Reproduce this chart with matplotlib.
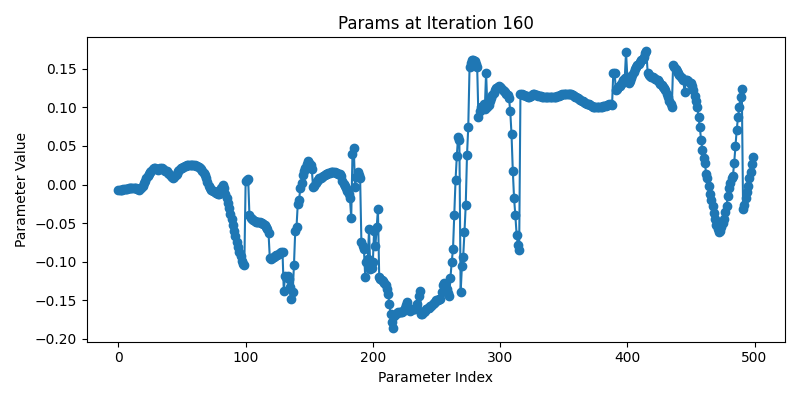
import matplotlib
matplotlib.use("Agg")
import matplotlib.pyplot as plt
import numpy as np

title = "Params at Iteration 160"
x_label = "Parameter Index"
y_label = "Parameter Value"

# values, one per parameter index (0..499)
param_values = [
    -0.007, -0.007, -0.007, -0.007, -0.006, -0.006, -0.006, -0.006, -0.005, -0.005,
    -0.005, -0.005, -0.004, -0.004, -0.004, -0.006, -0.007, -0.005, -0.004, -0.002,
    0.002, 0.005, 0.008, 0.011, 0.014, 0.016, 0.018, 0.020, 0.021, 0.021,
    0.020, 0.019, 0.020, 0.021, 0.021, 0.020, 0.019, 0.018, 0.017, 0.015,
    0.013, 0.011, 0.010, 0.009, 0.010, 0.012, 0.014, 0.017, 0.019, 0.021,
    0.022, 0.023, 0.024, 0.024, 0.025, 0.025, 0.025, 0.025, 0.025, 0.025,
    0.025, 0.024, 0.024, 0.023, 0.022, 0.020, 0.018, 0.015, 0.012, 0.008,
    0.003, -0.002, -0.005, -0.007, -0.008, -0.009, -0.010, -0.011, -0.012, -0.012,
    -0.011, -0.005, 0.000, -0.004, -0.012, -0.017, -0.024, -0.030, -0.038, -0.045,
    -0.053, -0.060, -0.067, -0.074, -0.081, -0.087, -0.093, -0.099, -0.103, -0.104,
    0.004, 0.006, 0.007, -0.040, -0.043, -0.045, -0.046, -0.047, -0.048, -0.048,
    -0.049, -0.049, -0.050, -0.050, -0.051, -0.052, -0.055, -0.058, -0.063, -0.095,
    -0.096, -0.095, -0.094, -0.093, -0.092, -0.091, -0.090, -0.089, -0.088, -0.088,
    -0.138, -0.119, -0.120, -0.119, -0.122, -0.133, -0.148, -0.140, -0.104, -0.060,
    -0.055, -0.025, -0.020, -0.005, 0.002, 0.012, 0.018, 0.022, 0.027, 0.030,
    0.028, 0.025, 0.020, -0.003, -0.002, 0.002, 0.004, 0.006, 0.008, 0.009,
    0.010, 0.011, 0.012, 0.013, 0.014, 0.015, 0.015, 0.016, 0.016, 0.016,
    0.016, 0.015, 0.015, 0.014, 0.013, 0.011, 0.005, 0.001, -0.002, -0.005,
    -0.008, -0.012, -0.018, -0.043, 0.040, 0.048, -0.003, 0.010, 0.016, 0.012,
    0.008, -0.075, -0.080, -0.084, -0.120, -0.100, -0.097, -0.058, -0.110, -0.108,
    -0.100, -0.060, -0.080, -0.055, -0.032, -0.120, -0.122, -0.124, -0.125, -0.128,
    -0.131, -0.136, -0.142, -0.155, -0.168, -0.178, -0.186, -0.170, -0.168, -0.167,
    -0.166, -0.166, -0.165, -0.165, -0.164, -0.160, -0.156, -0.153, -0.160, -0.164,
    -0.163, -0.162, -0.162, -0.161, -0.160, -0.155, -0.145, -0.138, -0.168, -0.168,
    -0.166, -0.164, -0.162, -0.160, -0.160, -0.158, -0.157, -0.155, -0.154, -0.152,
    -0.150, -0.150, -0.149, -0.148, -0.140, -0.130, -0.128, -0.132, -0.136, -0.141,
    -0.145, -0.121, -0.100, -0.084, -0.039, 0.006, 0.037, 0.062, 0.058, -0.140,
    -0.106, -0.094, -0.062, -0.027, 0.038, 0.075, 0.152, 0.158, 0.162, 0.162,
    0.160, 0.156, 0.152, 0.087, 0.095, 0.100, 0.101, 0.104, 0.098, 0.145,
    0.100, 0.103, 0.108, 0.112, 0.116, 0.119, 0.122, 0.125, 0.127, 0.128,
    0.127, 0.125, 0.123, 0.121, 0.120, 0.118, 0.116, 0.112, 0.095, 0.065,
    0.018, -0.018, -0.040, -0.065, -0.078, -0.085, 0.117, 0.117, 0.116, 0.116,
    0.115, 0.115, 0.114, 0.114, 0.115, 0.116, 0.117, 0.117, 0.116, 0.116,
    0.115, 0.115, 0.115, 0.114, 0.114, 0.114, 0.113, 0.113, 0.113, 0.113,
    0.113, 0.113, 0.113, 0.114, 0.114, 0.115, 0.115, 0.116, 0.116, 0.117,
    0.117, 0.117, 0.118, 0.118, 0.118, 0.117, 0.117, 0.116, 0.115, 0.114,
    0.113, 0.112, 0.111, 0.110, 0.109, 0.108, 0.107, 0.106, 0.105, 0.105,
    0.104, 0.103, 0.102, 0.101, 0.101, 0.100, 0.100, 0.100, 0.101, 0.101,
    0.101, 0.102, 0.102, 0.102, 0.103, 0.103, 0.104, 0.104, 0.103, 0.145,
    0.145, 0.123, 0.124, 0.126, 0.128, 0.130, 0.132, 0.135, 0.138, 0.172,
    0.140, 0.132, 0.134, 0.138, 0.142, 0.146, 0.150, 0.153, 0.155, 0.157,
    0.159, 0.161, 0.163, 0.166, 0.170, 0.173, 0.145, 0.142, 0.141, 0.140,
    0.139, 0.138, 0.137, 0.136, 0.135, 0.133, 0.131, 0.129, 0.127, 0.125,
    0.122, 0.118, 0.113, 0.108, 0.104, 0.100, 0.155, 0.152, 0.150, 0.147,
    0.145, 0.142, 0.140, 0.138, 0.136, 0.120, 0.135, 0.136, 0.134, 0.132,
    0.132, 0.128, 0.122, 0.115, 0.108, 0.101, 0.088, 0.074, 0.058, 0.045,
    0.035, 0.028, 0.013, 0.008, -0.002, -0.012, -0.020, -0.028, -0.037, -0.045,
    -0.052, -0.058, -0.062, -0.060, -0.055, -0.050, -0.045, -0.036, -0.028, -0.015,
    -0.005, 0.002, 0.008, 0.011, 0.028, 0.050, 0.071, 0.087, 0.101, 0.114,
    0.124, -0.032, -0.026, -0.018, -0.010, -0.002, 0.008, 0.016, 0.026, 0.036,
]

idx = np.arange(len(param_values))

fig, ax = plt.subplots(figsize=(8, 4), dpi=100)
ax.plot(idx, param_values, marker="o", color="tab:blue")
ax.set_title(title)
ax.set_xlabel(x_label)
ax.set_ylabel(y_label)
fig.tight_layout()
fig.savefig("out.png")
plt.close(fig)
